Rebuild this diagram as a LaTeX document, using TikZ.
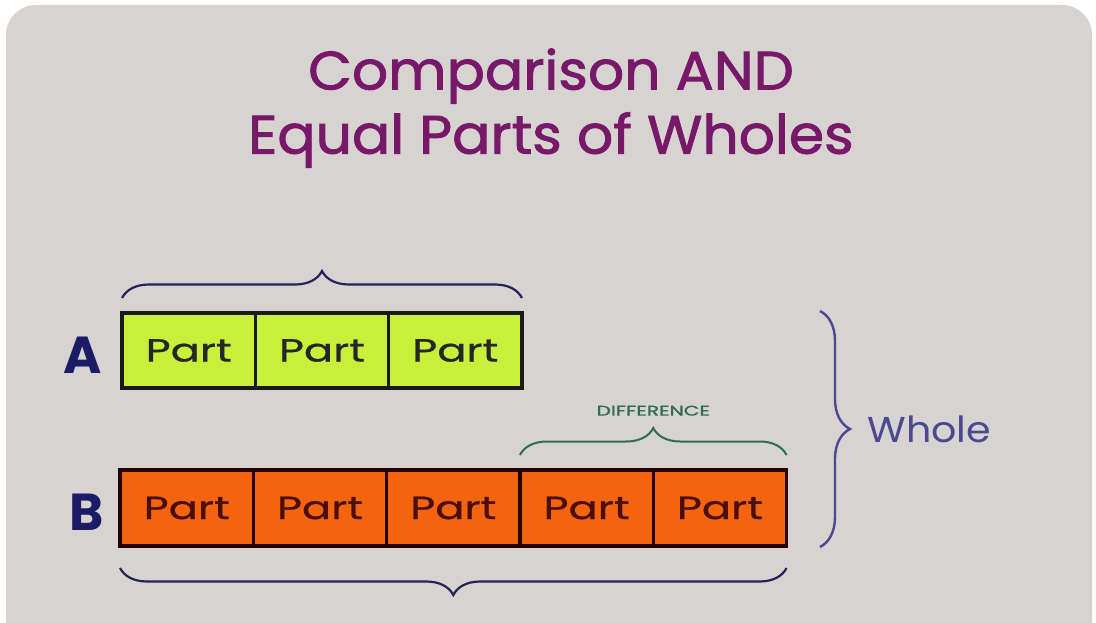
\documentclass[tikz,border=0pt]{standalone}
\usepackage{fontspec}
\setmainfont{Poppins}
\newfontfamily\titlefont[FakeBold=1.6, FakeStretch=1.05]{Poppins}
\newfontfamily\partfont[FakeBold=0.8, FakeStretch=1.35]{Poppins}
\newfontfamily\wholefont[FakeStretch=1.1]{Poppins}
\newfontfamily\difffont[FakeBold=1.2, FakeStretch=1.45]{Poppins}
\usetikzlibrary{decorations.pathreplacing}
\definecolor{bggrey}{HTML}{D6D3D0}
\definecolor{titlec}{HTML}{771869}
\definecolor{limec}{HTML}{C8F03A}
\definecolor{orangec}{HTML}{F2640F}
\definecolor{navyc}{HTML}{1C1C66}
\definecolor{bracec}{HTML}{23235A}
\definecolor{diffc}{HTML}{2E6B58}
\definecolor{wholec}{HTML}{4A4890}
\definecolor{btext}{HTML}{4A0F0A}
\tikzset{
  partbox/.style={draw, line width=3.5pt, outer sep=0pt, minimum width=133.3pt, inner sep=0pt, font=\partfont\fontsize{32}{32}\selectfont},
  partA/.style={partbox, minimum height=75pt, fill=limec, draw=black!90, text=black!85},
  partB/.style={partbox, minimum height=76pt, fill=orangec, draw=black!85!red, text=btext},
  bracedec/.style={decorate, decoration={brace, amplitude=27pt}, line width=2.2pt},
  rowlabel/.style={font=\fontsize{52}{52}\selectfont\bfseries, text=navyc},
  titletext/.style={text=titlec, font=\titlefont\fontsize{54}{54}\selectfont},
}
\begin{document}
\begin{tikzpicture}[x=1pt,y=-1pt]
\useasboundingbox (0,0) rectangle (1096,623);
\fill[white] (0,0) rectangle (1096,623);
\fill[bggrey, rounded corners=30pt] (6,5) rectangle (1092,660);
\node[titletext] (title) at (551,76) {Comparison AND};
\node[titletext] (title2) at (551,140) {Equal Parts of Wholes};
% row A
\node[partA] (a1) at (188.7,350.5) {Part};
\node[partA, anchor=west] (a2) at (a1.east) {Part};
\node[partA, anchor=west] (a3) at (a2.east) {Part};
\node[rowlabel] (A) at (83,355) {A};
% row B
\node[partB] (b1) at (186.7,508) {Part};
\node[partB, anchor=west] (b2) at (b1.east) {Part};
\node[partB, anchor=west] (b3) at (b2.east) {Part};
\node[partB, anchor=west] (b4) at (b3.east) {Part};
\node[partB, anchor=west] (b5) at (b4.east) {Part};
\node[rowlabel] (B) at (87,512) {B};
% braces
\draw[bracedec, bracec] ([yshift=15pt]a1.north west) -- ([yshift=15pt]a3.north east);
\draw[bracedec, bracec] ([yshift=-22pt]b5.south east) -- ([yshift=-22pt]b1.south west);
\draw[bracedec, diffc, line width=2pt] ([yshift=15pt]b4.north west) -- ([yshift=15pt]b5.north east) node[midway, above=35pt, font=\difffont\fontsize{14}{14}\selectfont, text=diffc] (diff) {DIFFERENCE};
\coordinate (wt) at (820,311);
\coordinate (wb) at (820,547);
\draw[bracedec, wholec, line width=2.4pt, decoration={amplitude=30pt}] (wt) -- (wb) node[midway, right=43pt, font=\wholefont\fontsize{36}{36}\selectfont, text=wholec] (whole) {Whole};
\end{tikzpicture}
\end{document}
